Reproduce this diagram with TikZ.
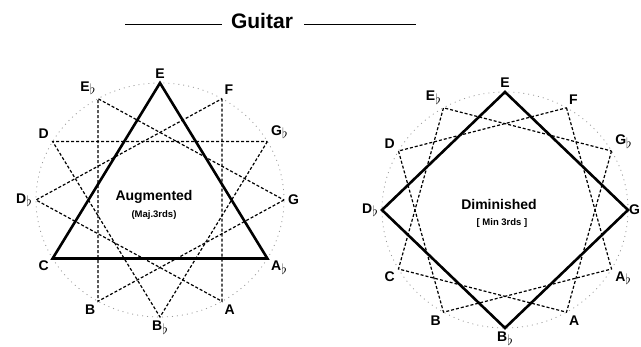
\documentclass[tikz,border=0pt]{standalone}
\usepackage{fontspec}
\setmainfont{Liberation Sans}
\usetikzlibrary{calc}
\newcommand{\flt}{\raisebox{-3.5pt}{$\flat$}}
\begin{document}
\begin{tikzpicture}[x=1pt,y=1pt,
  notelab/.style={font=\bfseries\fontsize{14}{14}\selectfont, inner sep=1pt},
  thickline/.style={line width=2.6pt, line join=miter, line cap=round},
  dashline/.style={line width=1.2pt, dash pattern=on 3pt off 2pt},
  ring/.style={gray!80, line width=0.8pt, dash pattern=on 1pt off 4pt},
  maintext/.style={font=\bfseries\fontsize{14}{14}\selectfont, inner sep=0pt},
  subtext/.style={font=\bfseries\fontsize{9.5}{10}\selectfont, inner sep=0pt},
  titlerule/.style={line width=0.8pt}]
\useasboundingbox (0,0) rectangle (641,347);

% title
\node[font=\bfseries\fontsize{21}{21}\selectfont, inner sep=0pt] (title) at (262,326) {Guitar};
\draw[titlerule] ([xshift=-9pt,yshift=-3pt]title.west) -- ++(-97,0);
\draw[titlerule] ([xshift=11pt,yshift=-3pt]title.east) -- ++(112,0);

% left: augmented
\coordinate (lc) at (160,147);
\draw[ring] (lc) ellipse [x radius=124, y radius=117];
\foreach \a/\n/\t in {90/E/E, 60/F/F, 30/Gb/{G\flt}, 0/G/G, -30/Ab/{A\flt}, -60/A/A,
  -90/Bb/{B\flt}, -120/B/B, -150/C/C, 180/Db/{D\flt}, 150/D/D, 120/Eb/{E\flt}}
  \coordinate[label={[notelab, label distance=3pt]\a:\t}] (L\n) at ($(lc)+(\a:124pt and 117pt)$);
\draw[dashline] (LF) -- (LA) -- (LDb) -- cycle;
\draw[dashline] (LGb) -- (LBb) -- (LD) -- cycle;
\draw[dashline] (LG) -- (LB) -- (LEb) -- cycle;
\draw[thickline] (LE) -- (LAb) -- (LC) -- cycle;
\node[maintext] (aug) at (154,150) {Augmented};
\node[subtext] (augsub) at (154,132) {(Maj.3rds)};

% right: diminished
\coordinate (rc) at (505,137);
\draw[ring] (rc) ellipse [x radius=123, y radius=118];
\foreach \a/\n/\t/\d in {90/E/E/3pt, 60/F/F/3pt, 30/Gb/{G\flt}/3pt, 0/G/G/0pt, -30/Ab/{A\flt}/3pt, -60/A/A/3pt,
  -90/Bb/{B\flt}/3pt, -120/B/B/3pt, -150/C/C/3pt, 180/Db/{D\flt}/3pt, 150/D/D/3pt, 120/Eb/{E\flt}/3pt}
  \coordinate[label={[notelab, label distance=\d]\a:\t}] (R\n) at ($(rc)+(\a:123pt and 118pt)$);
\draw[dashline] (RF) -- (RAb) -- (RB) -- (RD) -- cycle;
\draw[dashline] (RGb) -- (RA) -- (RC) -- (REb) -- cycle;
\draw[thickline] (RE) -- (RG) -- (RBb) -- (RDb) -- cycle;
\node[maintext] (dim) at (499,142) {Diminished};
\node[subtext] (dimsub) at (502,124) {[ Min 3rds ]};
\end{tikzpicture}
\end{document}
